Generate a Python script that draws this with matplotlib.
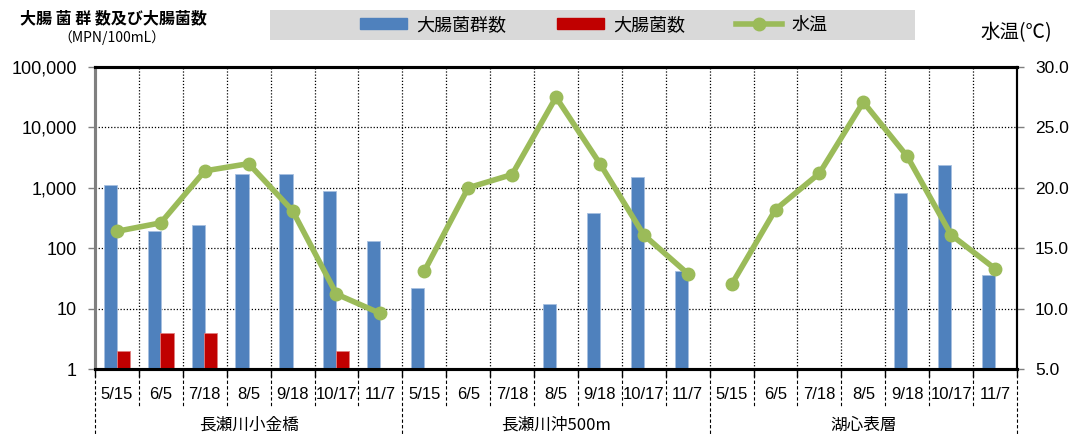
import numpy as np
import matplotlib
matplotlib.use("Agg")
import matplotlib.pyplot as plt
import matplotlib.patches as mpatches
from matplotlib.lines import Line2D
from matplotlib.ticker import FixedLocator, FuncFormatter

plt.rcParams["font.family"] = ["Noto Sans CJK JP", "DejaVu Sans"]

# ── data ──────────────────────────────────────────────────────────────
dates = ["5/15", "6/5", "7/18", "8/5", "9/18", "10/17", "11/7"]
sites = ["長瀬川小金橋", "長瀬川沖500m", "湖心表層"]

# 大腸菌群数 (MPN/100mL); nan = no bar
coliform = [
    [1100, 190, 240, 1700, 1700, 900, 130],
    [22, np.nan, np.nan, 12, 380, 1500, 42],
    [np.nan, np.nan, np.nan, np.nan, 820, 2400, 36],
]
# 大腸菌数 (MPN/100mL)
ecoli = [
    [2, 4, 4, np.nan, np.nan, 2, np.nan],
    [np.nan] * 7,
    [np.nan] * 7,
]
# 水温 (℃)
temp = [
    [16.4, 17.1, 21.4, 22.0, 18.1, 11.2, 9.6],
    [13.1, 20.0, 21.1, 27.5, 22.0, 16.1, 12.9],
    [12.0, 18.2, 21.2, 27.1, 22.6, 16.1, 13.3],
]

BLUE = "#4F81BD"
RED = "#C00000"
GREEN = "#9BBB59"
NUM_FONT = ["Liberation Sans", "DejaVu Sans"]

n_per = len(dates)
n_cat = n_per * len(sites)

fig = plt.figure(figsize=(10.7, 4.34), dpi=100)
ax = fig.add_axes([95 / 1070, 1 - 369 / 434, (1017 - 95) / 1070, (369 - 67) / 434])
ax2 = ax.twinx()

# ── bars ──────────────────────────────────────────────────────────────
for g in range(len(sites)):
    xs = np.arange(n_per) + g * n_per
    ax.bar(xs - 0.15, coliform[g], width=0.3, color=BLUE,
           edgecolor="#A7C0E0", linewidth=0.6, zorder=3)
    ax.bar(xs + 0.14, ecoli[g], width=0.3, color=RED,
           edgecolor="#E08080", linewidth=0.6, zorder=3)

ax.set_yscale("log")
ax.set_ylim(1, 100000)
ax.set_xlim(-0.5, n_cat - 0.5)
ax.yaxis.set_major_locator(FixedLocator([1, 10, 100, 1000, 10000, 100000]))
ax.yaxis.set_minor_locator(FixedLocator([]))
ax.yaxis.set_major_formatter(FuncFormatter(lambda v, p: f"{int(round(v)):,}"))
ax.tick_params(axis="y", labelsize=13, length=5, width=1, color="#808080", pad=8)
for lbl in ax.get_yticklabels():
    lbl.set_family(NUM_FONT)

# category boundaries as x ticks (grid + tick marks)
bounds = np.arange(0, n_cat + 1) - 0.5
ax.set_xticks(bounds)
ax.set_xticklabels([])
ax.tick_params(axis="x", length=6, width=1, color="black")
ax.grid(True, axis="both", which="major", linestyle=(0, (1, 1.5)),
        color="black", linewidth=0.9, zorder=0)
ax.set_axisbelow(True)

# ── water temperature line ────────────────────────────────────────────
for g in range(len(sites)):
    xs = np.arange(n_per) + g * n_per
    ax2.plot(xs, temp[g], color=GREEN, linewidth=4, marker="o",
             markersize=9, zorder=5)
ax2.set_ylim(5, 30)
ax2.set_yticks(np.arange(5, 30.1, 5))
ax2.yaxis.set_major_formatter(FuncFormatter(lambda v, p: f"{v:.1f}"))
ax2.tick_params(axis="y", labelsize=12.5, length=5, width=1, color="#808080", pad=8)
for lbl in ax2.get_yticklabels():
    lbl.set_family(NUM_FONT)

# spines
for a in (ax, ax2):
    a.spines["top"].set_linewidth(2.2)
    a.spines["bottom"].set_linewidth(2.2)
    a.spines["left"].set_color("#808080")
    a.spines["left"].set_linewidth(2.2)
    a.spines["right"].set_linewidth(1.5)

# ── two-level category labels ─────────────────────────────────────────
tr = ax.get_xaxis_transform()
for g, site in enumerate(sites):
    for i, d in enumerate(dates):
        ax.text(g * n_per + i, -0.086, d, transform=tr, ha="center",
                va="center", fontsize=12, family=NUM_FONT)
    ax.text(g * n_per + (n_per - 1) / 2, -0.185, site, transform=tr,
            ha="center", va="center", fontsize=12)

for b in bounds:
    group_edge = (round(b + 0.5) % n_per) == 0
    y_end = -0.22 if group_edge else -0.125
    ax.plot([b, b], [0, y_end], transform=tr, color="black",
            linestyle=(0, (3, 2)), linewidth=0.8, clip_on=False)

# ── axis titles ───────────────────────────────────────────────────────
fig.text(20 / 1070, 1 - 18 / 434, "大腸 菌 群 数及び大腸菌数", fontsize=11.5,
         ha="left", va="center", fontweight="bold")
fig.text(58 / 1070, 1 - 38 / 434, "（MPN/100mL）", fontsize=10,
         ha="left", va="center")
fig.text(1016 / 1070, 1 - 33 / 434, "水温(℃)", fontsize=14,
         ha="center", va="center")

# ── legend on grey band ───────────────────────────────────────────────
fig.patches.append(mpatches.Rectangle((270 / 1070, 1 - 40 / 434), 645 / 1070,
                                      30 / 434, transform=fig.transFigure,
                                      facecolor="#D9D9D9", edgecolor="none",
                                      zorder=0))
handles = [
    mpatches.Patch(color=BLUE, label="大腸菌群数"),
    mpatches.Patch(color=RED, label="大腸菌数"),
    Line2D([], [], color=GREEN, linewidth=4, marker="o", markersize=9,
           label="水温"),
]
fig.legend(handles=handles, loc="center", ncol=3,
           bbox_to_anchor=(594 / 1070, 1 - 25 / 434), frameon=False,
           fontsize=13, handlelength=2.6, handleheight=0.6,
           columnspacing=2.8, handletextpad=0.5)

fig.savefig("out.png", dpi=100)
